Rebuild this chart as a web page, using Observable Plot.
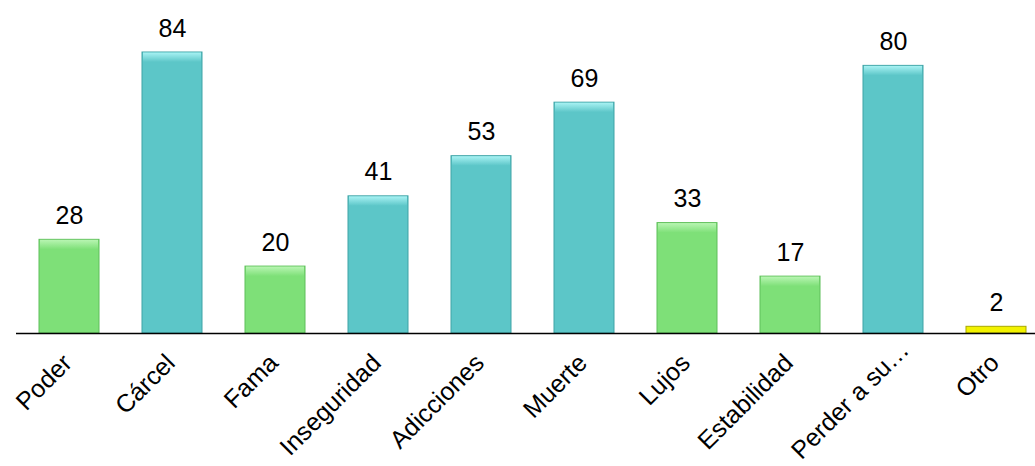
<!DOCTYPE html>
<html>
<head>
<meta charset="utf-8">
<script src="https://cdn.jsdelivr.net/npm/d3@7"></script>
<script src="https://cdn.jsdelivr.net/npm/@observablehq/plot@0.6"></script>
<style>
  html, body { margin: 0; padding: 0; background: #fff; }
  #chart svg { display: block; }
</style>
</head>
<body>
<div id="chart"></div>
<script>
const categorias = ["Poder", "Cárcel", "Fama", "Inseguridad", "Adicciones", "Muerte", "Lujos", "Estabilidad", "Perder a su…", "Otro"];
const valores = [28, 84, 20, 41, 53, 69, 33, 17, 80, 2];
const tipos = ["ganancia", "consecuencia", "ganancia", "consecuencia", "consecuencia", "consecuencia", "ganancia", "ganancia", "consecuencia", "otro"];

const data = categorias.map((c, i) => ({categoria: c, valor: valores[i], tipo: tipos[i]}));

const estilos = {
  ganancia: {fill: "#7ee078", stroke: "#5fbf5a", top: "url(#g-ganancia)"},
  consecuencia: {fill: "#5cc6c8", stroke: "#3fa3a6", top: "url(#g-consecuencia)"},
  otro: {fill: "#f2f200", stroke: "#a8a800", top: "url(#g-otro)"}
};

const font = "'Liberation Sans', Arial, sans-serif";

const marks = [];
for (const t of Object.keys(estilos)) {
  const sub = data.filter(d => d.tipo === t);
  const s = estilos[t];
  marks.push(Plot.barY(sub, {x: "categoria", y: "valor", fill: s.fill, stroke: s.stroke, strokeWidth: 1}));
  marks.push(Plot.barY(sub.filter(d => d.valor > 5), {x: "categoria", y1: "valor", y2: "valor", insetBottom: -10, insetLeft: 1, insetRight: 1, insetTop: 0.5, fill: s.top}));
}
marks.push(Plot.ruleY([0], {stroke: "#000", strokeWidth: 1.5}));
marks.push(Plot.text(data, {x: "categoria", y: "valor", text: d => String(d.valor), lineAnchor: "bottom", dy: -16, fontSize: 25, fill: "#000"}));
const cortas = categorias.filter(c => !c.endsWith("…"));
const largas = categorias.filter(c => c.endsWith("…"));
marks.push(Plot.text(cortas, {x: d => d, frameAnchor: "bottom", text: d => d, rotate: -45, textAnchor: "end", lineAnchor: "bottom", dx: 4, dy: 31, fontSize: 25, fill: "#000"}));
marks.push(Plot.text(largas, {x: d => d, frameAnchor: "bottom", text: d => d, rotate: -45, textAnchor: "end", lineAnchor: "bottom", dx: 17, dy: 18, fontSize: 25, fill: "#000"}));

const chart = Plot.plot({
  width: 1035,
  height: 466,
  marginLeft: 16,
  marginRight: 0,
  marginTop: 52,
  marginBottom: 133,
  style: {fontFamily: font, background: "#fff"},
  x: {domain: categorias, range: [15, 1050], paddingInner: 0.42, paddingOuter: 0.21, axis: null},
  y: {domain: [0, 84], axis: null},
  marks
});

const ns = "http://www.w3.org/2000/svg";
const defs = document.createElementNS(ns, "defs");
const grads = {ganancia: ["#b8f5b2", "#7ee078"], consecuencia: ["#a8f2f3", "#5cc6c8"], otro: ["#ffff90", "#f2f200"]};
for (const [k, [a, b]] of Object.entries(grads)) {
  const g = document.createElementNS(ns, "linearGradient");
  g.setAttribute("id", "g-" + k);
  g.setAttribute("x1", "0"); g.setAttribute("y1", "0");
  g.setAttribute("x2", "0"); g.setAttribute("y2", "1");
  const s1 = document.createElementNS(ns, "stop"); s1.setAttribute("offset", "0"); s1.setAttribute("stop-color", a);
  const s2 = document.createElementNS(ns, "stop"); s2.setAttribute("offset", "1"); s2.setAttribute("stop-color", b);
  g.appendChild(s1); g.appendChild(s2);
  defs.appendChild(g);
}
chart.insertBefore(defs, chart.firstChild);
document.getElementById("chart").appendChild(chart);
</script>
</body>
</html>
